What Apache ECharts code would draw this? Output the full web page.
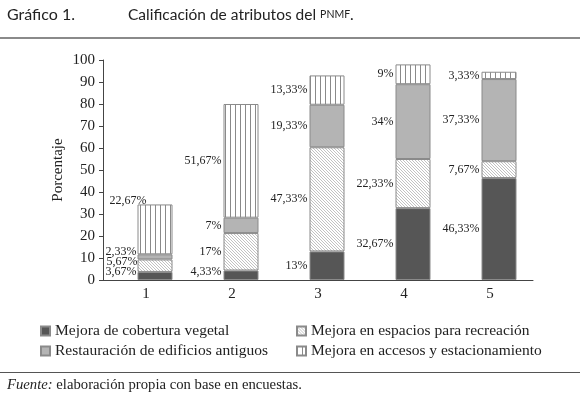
<!DOCTYPE html>
<html><head><meta charset="utf-8">
<script src="https://cdn.jsdelivr.net/npm/echarts@6/dist/echarts.min.js"></script>
<style>html,body{margin:0;padding:0;background:#fff}#c{width:580px;height:395px}</style>
</head><body><div id="c"></div>
<script>
// ---- data ----
const categories = ['1', '2', '3', '4', '5'];
const names = ['Mejora de cobertura vegetal', 'Mejora en espacios para recreación', 'Restauración de edificios antiguos', 'Mejora en accesos y estacionamiento'];
const cobertura = [3.67, 4.33, 13, 32.67, 46.33];
const espacios = [5.67, 17, 47.33, 22.33, 7.67];
const restauracion = [2.33, 7, 19.33, 34, 37.33];
const accesos = [22.67, 51.67, 13.33, 9, 3.33];
const yMin = 0, yMax = 100, yInterval = 10;

// ---- styles ----
function mkPattern(w, h, draw) {
  const c = document.createElement('canvas'); c.width = w; c.height = h;
  const g = c.getContext('2d'); g.fillStyle = '#fff'; g.fillRect(0, 0, w, h); draw(g);
  return { image: c, repeat: 'repeat' };
}
const hatch = mkPattern(3, 3, g => { g.fillStyle = '#c2c2c2'; for (let i = 0; i < 3; i++) g.fillRect(i, i, 1, 1); });
const vlines = mkPattern(5, 1, g => { g.fillStyle = '#8a8a8a'; g.fillRect(0, 0, 1, 1); });
const fills = ['#565656', hatch, '#b4b4b4', vlines];
const values = [cobertura, espacios, restauracion, accesos];
// label nudges (layout only) keyed by series index -> {dataIndex: [dx, dy]}
const nudges = [{ 0: [1, -4.5], 1: [0, -3] }, { 0: [2, -3.5] }, { 0: [1, -5] }, { 0: [11, -29] }];

const serif = 'Liberation Serif, Times New Roman, serif';
const fmt = v => String(v).replace('.', ',') + '%';

const series = values.map((arr, si) => ({
  name: names[si], type: 'bar', stack: 'total', xAxisIndex: 1, yAxisIndex: 1, barWidth: 35,
  itemStyle: { color: fills[si], borderColor: '#8a8a8a', borderWidth: 1 },
  label: { show: true, position: 'left', distance: 2, fontFamily: serif, fontSize: 12, color: '#222',
    formatter: p => fmt(p.value) },
  data: arr.map((v, i) => {
    const n = nudges[si][i];
    return n ? { value: v, label: { offset: n } } : v;
  })
}));

const legendBase = { orient: 'vertical', top: 323, padding: 0, itemWidth: 9, itemHeight: 9, itemGap: 4,
  icon: 'rect', selectedMode: false, textStyle: { fontFamily: serif, fontSize: 15.5, color: '#222' } };

const chart = echarts.init(document.getElementById('c'), null, { renderer: 'canvas' });
chart.setOption({
  backgroundColor: '#fff',
  animation: false,
  grid: [
    { left: 103, top: 60, width: 430, height: 220 },
    { left: 112, top: 60, width: 430, height: 220 }
  ],
  xAxis: [
    { gridIndex: 0, type: 'category', data: categories,
      axisLine: { lineStyle: { color: '#444', width: 1 } },
      axisTick: { inside: true, length: 3, lineStyle: { color: '#444' } },
      axisLabel: { fontFamily: serif, fontSize: 15, color: '#222', margin: 7 } },
    { gridIndex: 1, type: 'category', data: categories, show: false }
  ],
  yAxis: [
    { gridIndex: 0, type: 'value', min: yMin, max: yMax, interval: yInterval,
      axisLine: { show: true, lineStyle: { color: '#444', width: 1 } },
      axisTick: { show: true, length: 4, lineStyle: { color: '#444' } },
      splitLine: { show: false },
      axisLabel: { fontFamily: serif, fontSize: 15, color: '#222', margin: 8 } },
    { gridIndex: 1, type: 'value', min: yMin, max: yMax, interval: yInterval, show: false, splitLine: { show: false } }
  ],
  legend: [
    Object.assign({}, legendBase, { data: [names[0], names[2]], left: 40 }),
    Object.assign({}, legendBase, { data: [names[1], names[3]], left: 296 })
  ],
  graphic: [
    { type: 'line', shape: { x1: 0, y1: 38, x2: 580, y2: 38 }, style: { stroke: '#8a8a8a', lineWidth: 2 } },
    { type: 'line', shape: { x1: 0, y1: 372.5, x2: 580, y2: 372.5 }, style: { stroke: '#555', lineWidth: 1 } },
    { type: 'text', x: 7, y: 15, style: { text: 'Gráfico 1.', font: '16px Lato, sans-serif', fill: '#222', verticalAlign: 'middle' } },
    { type: 'text', x: 128, y: 15, style: { text: '{a|Calificación de atributos del }{b|PNMF}{a|.}', verticalAlign: 'middle', fill: '#222',
      rich: { a: { font: '15.5px Lato, sans-serif', fill: '#222' }, b: { font: '10.5px Lato, sans-serif', fill: '#222' } } } },
    { type: 'text', x: 58, y: 170, rotation: Math.PI / 2, style: { text: 'Porcentaje', font: '15px ' + serif, fill: '#222', align: 'center', verticalAlign: 'middle' } },
    { type: 'text', x: 7, y: 385, style: { text: '{i|Fuente:}{r| elaboración propia con base en encuestas.}', verticalAlign: 'middle',
      rich: { i: { font: 'italic 14.7px ' + serif, fill: '#222' }, r: { font: '14.7px ' + serif, fill: '#222' } } } }
  ],
  series: series
});
</script></body></html>
